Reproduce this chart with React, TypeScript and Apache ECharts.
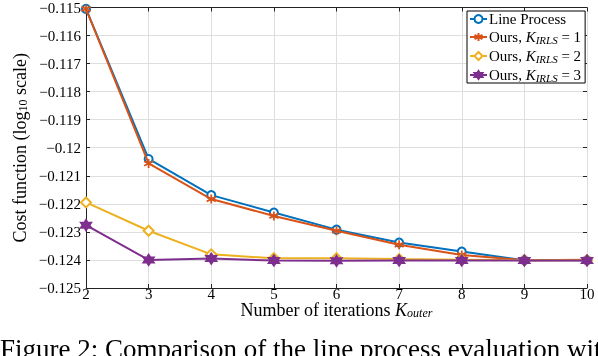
import React, { useEffect, useRef } from "react";
import * as echarts from "echarts";

const iterations = [2, 3, 4, 5, 6, 7, 8, 9, 10];
const lineProcess = [-0.11505, -0.1204, -0.12169, -0.12231, -0.12292, -0.12338, -0.1237, -0.12401, -0.12401];
const oursK1 = [-0.11505, -0.12056, -0.12183, -0.12243, -0.12296, -0.12346, -0.12382, -0.12401, -0.12399];
const oursK2 = [-0.12195, -0.12296, -0.1238, -0.12394, -0.12394, -0.12397, -0.12399, -0.12401, -0.12401];
const oursK3 = [-0.12276, -0.124, -0.12395, -0.12402, -0.12403, -0.12402, -0.12402, -0.12402, -0.12402];
const seriesNames = ["Line Process", "Ours, K_IRLS = 1", "Ours, K_IRLS = 2", "Ours, K_IRLS = 3"];
const yTicks = { min: -0.125, max: -0.115, interval: 0.001 };
const xTicks = { min: 2, max: 10, interval: 1 };
const caption = "Figure 2: Comparison of the line process evaluation with";

const FONT = "'Liberation Serif', 'DejaVu Serif', serif";

const asterisk = "path://M0,-5L0,5M-4.33,-2.5L4.33,2.5M-4.33,2.5L4.33,-2.5";
const hexagram = "path://M0,-6L1.73,-3L5.2,-3L3.46,0L5.2,3L1.73,3L0,6L-1.73,3L-5.2,3L-3.46,0L-5.2,-3L-1.73,-3Z";

const pair = (ys: number[]) => iterations.map((x, i) => [x, ys[i]]);

export default function App() {
  const ref = useRef<HTMLDivElement>(null);
  useEffect(() => {
    if (!ref.current) return;
    const chart = echarts.init(ref.current, undefined, { renderer: "svg" });
    const legendRich = {
      m: { fontFamily: FONT, fontSize: 15, lineHeight: 16, color: "#000", verticalAlign: "top" },
      i: { fontFamily: FONT, fontStyle: "italic", fontSize: 15, lineHeight: 16, color: "#000", verticalAlign: "top" },
      sub: { fontFamily: FONT, fontStyle: "italic", fontSize: 11, lineHeight: 11, color: "#000", verticalAlign: "bottom", padding: [8, 0, 0, 0] },
    };
    const nameRich = {
      m: { fontFamily: FONT, fontSize: 18, lineHeight: 18, color: "#000", verticalAlign: "top" },
      i: { fontFamily: FONT, fontStyle: "italic", fontSize: 18, lineHeight: 18, color: "#000", verticalAlign: "top" },
      sub: { fontFamily: FONT, fontStyle: "italic", fontSize: 12, lineHeight: 12, color: "#000", verticalAlign: "bottom", padding: [12, 0, 0, 0] },
      subn: { fontFamily: FONT, fontSize: 12, lineHeight: 12, color: "#000", verticalAlign: "bottom", padding: [9, 0, 0, 0] },
    };
    const colors = ["#0072BD", "#D95319", "#EDB120", "#7E2F8E"];
    const datasets = [lineProcess, oursK1, oursK2, oursK3];
    const symbols = ["emptyCircle", asterisk, "emptyDiamond", hexagram];
    const sizes = [8, 9, 10, 11];
    const axisColor = "#222";
    chart.setOption({
      animation: false,
      grid: { left: 85, right: 11, top: 6, bottom: 68, containLabel: false },
      legend: {
        orient: "vertical",
        left: 467,
        top: 11,
        padding: [0, 4, 0, 2],
        itemGap: 0,
        itemWidth: 17,
        itemHeight: 10,
        backgroundColor: "#fff",
        borderColor: "#000",
        borderWidth: 1,
        borderRadius: 0,
        data: seriesNames,
        formatter: (name: string) => {
          const m = name.match(/^Ours, K_IRLS = (\d)$/);
          if (m) return `{m|Ours, }{i|K}{sub|IRLS}{m| = ${m[1]}}`;
          return `{m|${name}}`;
        },
        textStyle: { fontFamily: FONT, fontSize: 15, color: "#000", padding: [0, 0, 0, -3], rich: legendRich },
      },
      xAxis: [
        {
          type: "value",
          min: xTicks.min,
          max: xTicks.max,
          interval: xTicks.interval,
          name: "{m|Number of iterations }{i|K}{sub|outer}",
          nameLocation: "middle",
          nameGap: 13,
          nameMoveOverlap: false,
          nameTextStyle: { fontFamily: FONT, fontSize: 18, color: "#000", verticalAlign: "top", rich: nameRich },
          axisLine: { show: true, lineStyle: { color: axisColor, width: 1 } },
          axisTick: { show: true, inside: true, length: 4, lineStyle: { color: axisColor } },
          axisLabel: { fontFamily: FONT, fontSize: 15, lineHeight: 13, color: "#000", margin: -1 },
          splitLine: { show: true, lineStyle: { color: "#dedede", width: 1 } },
        },
        {
          type: "value",
          position: "top",
          min: xTicks.min,
          max: xTicks.max,
          interval: xTicks.interval,
          axisLine: { show: true, lineStyle: { color: axisColor, width: 1 } },
          axisTick: { show: true, inside: true, length: 4, lineStyle: { color: axisColor } },
          axisLabel: { show: false },
          splitLine: { show: false },
        },
      ],
      yAxis: [
        {
          type: "value",
          min: yTicks.min,
          max: yTicks.max,
          interval: yTicks.interval,
          name: "{m|Cost function (log}{subn|10}{m| scale)}",
          nameLocation: "middle",
          nameGap: 57,
          nameMoveOverlap: false,
          nameRotate: 90,
          nameTextStyle: { fontFamily: FONT, fontSize: 18, color: "#000", rich: nameRich },
          axisLine: { show: true, lineStyle: { color: axisColor, width: 1 } },
          axisTick: { show: true, inside: true, length: 4, lineStyle: { color: axisColor } },
          axisLabel: {
            fontFamily: FONT,
            fontSize: 15,
            color: "#000",
            margin: 5,
            formatter: (v: number) => String(parseFloat(v.toFixed(3))).replace("-", "\u2212"),
          },
          splitLine: { show: true, lineStyle: { color: "#dedede", width: 1 } },
        },
        {
          type: "value",
          position: "right",
          min: yTicks.min,
          max: yTicks.max,
          interval: yTicks.interval,
          axisLine: { show: false },
          axisTick: { show: true, inside: true, length: 4, lineStyle: { color: axisColor } },
          axisLabel: { show: false },
          splitLine: { show: false },
        },
      ],
      graphic: [
        {
          type: "text",
          left: 0,
          top: 335,
          style: { text: caption, font: `27px ${FONT}`, fill: "#000" },
        },
      ],
      series: datasets.map((d, i) => ({
        name: seriesNames[i],
        type: "line",
        data: pair(d),
        symbol: symbols[i],
        symbolSize: sizes[i],
        showSymbol: true,
        z: 2 + i,
        lineStyle: { color: colors[i], width: 2 },
        itemStyle: {
          color: colors[i],
          borderColor: colors[i],
          borderWidth: i === 1 ? 1.8 : 1.5,
        },
        emphasis: { disabled: true },
      })),
    });
    return () => chart.dispose();
  }, []);
  return <div ref={ref} style={{ position: "fixed", left: 0, top: 0, width: 598, height: 356 }} />;
}
